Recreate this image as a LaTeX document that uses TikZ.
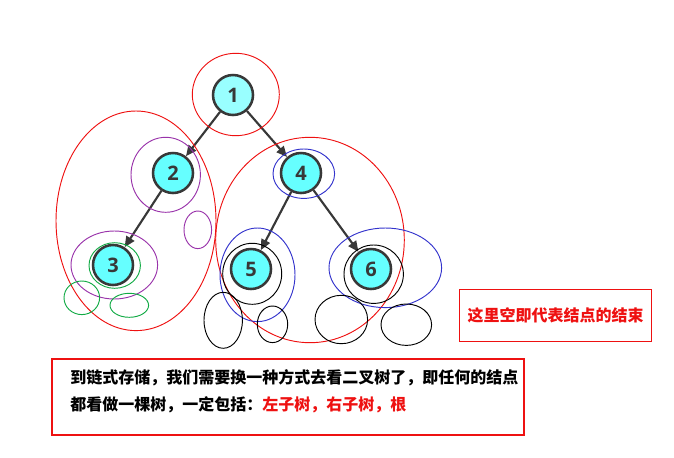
\documentclass[tikz,border=0pt]{standalone}
\usepackage{fontspec}
\setmainfont{Open Sans}
\newfontfamily\cjk{Noto Sans CJK SC}
\usetikzlibrary{arrows.meta}
\definecolor{nodefill}{HTML}{66FFFF}
\definecolor{rootfill}{HTML}{99FFFF}
\definecolor{nodeedge}{HTML}{383838}
\definecolor{myred}{HTML}{EE1111}
\definecolor{mypurple}{HTML}{9933AA}
\definecolor{mygreen}{HTML}{11AA44}
\definecolor{myblue}{HTML}{3333CC}
\tikzset{
  treenode/.style={circle,draw=nodeedge,line width=1.9pt,fill=nodefill,minimum size=30pt,inner sep=0pt,
    font=\fontsize{15pt}{17pt}\selectfont\bfseries,text=nodeedge},
  edgearrow/.style={draw=nodeedge,line width=1.6pt,-{Triangle[length=8pt,width=7pt]}},
  ring/.style={line width=0.7pt},
  redbox/.style={draw=myred,line width=1.1pt},
  cjktext/.style={font=\cjk\fontsize{12pt}{14pt}\selectfont\bfseries,inner sep=0pt}
}
\begin{document}
\begin{tikzpicture}[x=0.75pt,y=-0.75pt]
\useasboundingbox (0,0) rectangle (674,457);
% tree nodes
\node[treenode,fill=rootfill] (n1) at (233,95) {1};
\node[treenode] (n2) at (173,173) {2};
\node[treenode] (n4) at (301,173) {4};
\node[treenode] (n3) at (113,265) {3};
\node[treenode] (n5) at (251,269) {5};
\node[treenode] (n6) at (371,269) {6};
\draw[edgearrow] (n1) -- (n2);
\draw[edgearrow] (n1) -- (n4);
\draw[edgearrow] (n2) -- (n3);
\draw[edgearrow] (n4) -- (n5);
\draw[edgearrow] (n4) -- (n6);
% red rings
\draw[ring,myred] (235.8,94.5) ellipse [x radius=43.5, y radius=41.2];
\draw[ring,myred] (136,220.8) ellipse [x radius=80, y radius=109.8];
\draw[ring,myred] (310,240) ellipse [x radius=94.3, y radius=102.7];
% purple rings
\draw[ring,mypurple] (165.7,174.8) ellipse [x radius=34.7, y radius=37.5];
\draw[ring,mypurple] (197.8,229.8) ellipse [x radius=13.8, y radius=18.8];
\draw[ring,mypurple] (114.3,265) ellipse [x radius=43.3, y radius=34];
% green rings
\draw[ring,mygreen] (114.7,265.5) ellipse [x radius=25.7, y radius=22.8];
\draw[ring,mygreen] (81.8,297.8) ellipse [x radius=17.8, y radius=16.8];
\draw[ring,mygreen] (129.3,305.3) ellipse [x radius=19.3, y radius=12];
% blue rings
\draw[ring,myblue] (303.8,173.7) ellipse [x radius=30.8, y radius=24.7];
\draw[ring,myblue] (257.5,274.8) ellipse [x radius=37.5, y radius=46.8];
\draw[ring,myblue] (385.3,267.8) ellipse [x radius=56.3, y radius=39.8];
% black rings
\draw[ring,black] (252.2,273.8) ellipse [x radius=29.5, y radius=30.5];
\draw[ring,black] (373.7,274.2) ellipse [x radius=29.7, y radius=29.2];
\draw[ring,black] (223.2,320.3) ellipse [x radius=19.2, y radius=28];
\draw[ring,black] (272.5,324.3) ellipse [x radius=15.2, y radius=18.3];
\draw[ring,black] (341.3,319.5) ellipse [x radius=26.3, y radius=24.2];
\draw[ring,black] (406.3,324.7) ellipse [x radius=25.3, y radius=20.7];
% right note box
\node[redbox,minimum width=144pt,minimum height=39pt,inner sep=0pt] (notebox) at (555.5,315.3) {};
\node[cjktext,text=myred] (notetext) at (notebox.center) {这里空即代表结点的结束};
% bottom text box
\node[redbox,minimum width=354pt,minimum height=57pt,inner sep=0pt] (mainbox) at (288,397.2) {};
\node[cjktext,anchor=west] (line1) at (70,377.3) {到链式存储，我们需要换一种方式去看二叉树了，即任何的结点};
\node[cjktext,anchor=west] (line2) at (70,405) {都看做一棵树，一定包括：\textcolor{myred}{左子树，右子树，根}};
\end{tikzpicture}
\end{document}
